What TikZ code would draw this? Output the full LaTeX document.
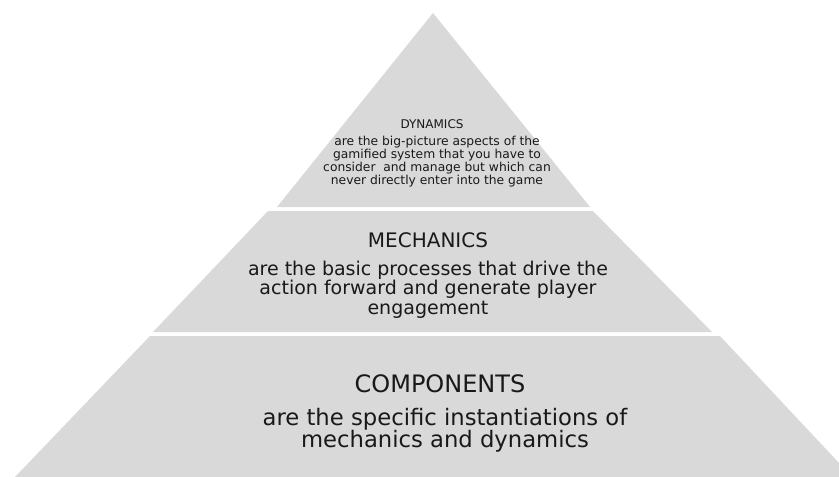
\documentclass[tikz,border=0pt]{standalone}
\usepackage{fontspec}
\setmainfont{DejaVu Sans}
\definecolor{pyrgray}{RGB}{217,217,217}

\begin{document}
\begin{tikzpicture}[x=1pt,y=-1pt]
\tikzset{band/.style = {fill=pyrgray}}
\tikzset{heading/.style = {inner sep=0pt,anchor=base,text=black!90}}
% base of a multi-line node sits on its last line
\tikzset{blurb/.style = {align=center,inner sep=0pt,anchor=base,text=black!90}}
\useasboundingbox (0,0) rectangle (839,477);
% layers, top to bottom
\fill[band] (433,13) -- (590,207) -- (277,207) -- cycle;
\fill[band] (268,211) -- (593,211) -- (712,332) -- (153,332) -- cycle;
\fill[band] (150,336) -- (720,336) -- (839,463) -- (839,477) -- (15,477) -- cycle;
% top
\node[heading,font=\fontsize{12}{12}\selectfont] (dyn) at (432,128) {DYNAMICS};
\node[blurb,font=\fontsize{12.3}{11.7}\selectfont] (dyntext) at (437,184)
  {are the big-picture aspects of the\\ gamified system that you have to\\
   consider~ and manage but which can\\ never directly enter into the game};
% middle
\node[heading,font=\fontsize{20}{20}\selectfont] (mech) at (428,247) {MECHANICS};
\node[blurb,font=\fontsize{19}{19.5}\selectfont] (mechtext) at (428,314)
  {are the basic processes that drive the\\ action forward and generate player\\ engagement};
% bottom
\node[heading,font=\fontsize{24}{24}\selectfont] (comp) at (440,392) {COMPONENTS};
\node[blurb,font=\fontsize{22.7}{22}\selectfont] (comptext) at (445,447)
  {are the specific instantiations of\\ mechanics and dynamics};
\end{tikzpicture}
\end{document}
